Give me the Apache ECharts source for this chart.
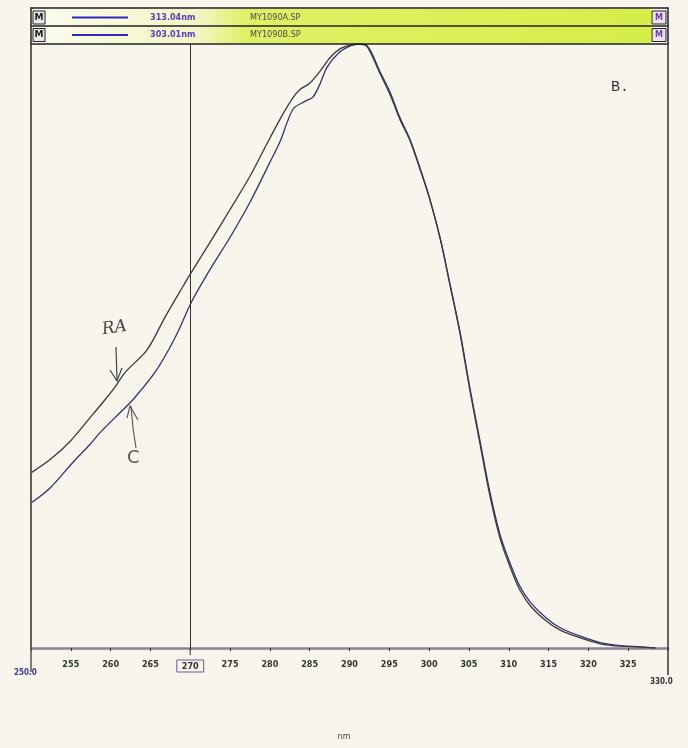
<!DOCTYPE html>
<html>
<head>
<meta charset="utf-8">
<script src="https://cdn.jsdelivr.net/npm/echarts@6/dist/echarts.min.js"></script>
<style>html,body{margin:0;padding:0;background:#f7f5ec;}#c{width:688px;height:748px;}</style>
</head>
<body>
<div id="c"></div>
<script>
// Wavelength (nm) and relative absorbance (% of peak)
const raNm  = [250.0,252.4,254.9,257.4,259.3,260.5,261.8,264.6,266.8,268.7,270.0,272.5,275.0,277.5,279.4,281.3,282.8,283.8,285.0,286.3,287.6,288.8,290.1,290.9];
const raAbs = [29.0,31.2,34.2,38.1,41.1,43.1,45.6,49.4,54.7,59.0,61.9,67.2,72.6,78.1,82.9,87.6,90.9,92.5,93.5,95.5,97.8,99.2,99.8,100.0];
const cNm   = [250.0,252.4,255.3,257.4,258.7,261.2,262.8,265.8,268.1,270.2,272.5,275.0,277.5,280.0,281.3,282.9,284.4,285.4,286.3,287.2,288.8,290.1,291.3];
const cAbs  = [24.0,26.5,30.8,33.7,35.7,39.0,41.1,46.1,51.4,57.4,62.7,68.0,73.8,80.4,83.9,89.2,90.5,91.2,93.4,96.2,98.7,99.7,100.0];
// shared falling edge
const tailNm  = [292.2,293.8,295.1,296.3,297.6,298.9,300.1,301.4,302.6,303.9,305.1,306.4,307.6,308.9,310.2,311.4,312.7,314.6,316.4,318.9,321.5,324.0,326.5,328.4];
const tailRa  = [99.7,95.5,92.0,87.9,84.2,79.3,74.3,67.7,60.2,51.9,42.8,33.7,25.4,18.2,13.3,9.6,7.0,4.6,3.0,1.7,0.7,0.3,0.2,0.0];
const tailC   = [99.6,95.2,91.6,87.6,84.0,79.1,74.2,67.8,60.4,52.2,43.2,34.2,26.0,18.8,13.9,10.2,7.6,5.1,3.4,2.0,0.9,0.4,0.2,0.0];
const xTicks = [255,260,265,270,275,280,285,290,295,300,305,310,315,320,325];
const cursorNm = 270;
const legendRows = [
  {val:'313.04nm', file:'MY1090A.SP'},
  {val:'303.01nm', file:'MY1090B.SP'}
];

function pairs(a,b){return a.map((v,i)=>[v,b[i]]);}
const raData = pairs(raNm,raAbs).concat(pairs(tailNm,tailRa));
const cData  = pairs(cNm,cAbs).concat(pairs(tailNm,tailC));

const chart = echarts.init(document.getElementById('c'));
const L=31,R=668,T=44,B=648;

const g = [];
// header
legendRows.forEach((r,i)=>{
  const y0 = 9 + i*17.5;
  g.push({type:'rect',shape:{x:46,y:y0,width:605,height:17},style:{fill:new echarts.graphic.LinearGradient(0,0,1,0,[
    {offset:0,color:'#fbfbea'},{offset:0.25,color:'#f3f6c4'},{offset:0.33,color:'#dff166'},{offset:1,color:'#d6ee48'}])},z:1});
  g.push({type:'rect',shape:{x:33,y:y0+2,width:12,height:13},style:{fill:'#e8e8e8',stroke:'#222',lineWidth:1},z:2});
  g.push({type:'text',x:39,y:y0+8.5,style:{text:'M',fill:'#222',font:'bold 9px DejaVu Sans',align:'center',verticalAlign:'middle'},z:3});
  g.push({type:'line',shape:{x1:72,y1:y0+8.5,x2:128,y2:y0+8.5},style:{stroke:'#2b2bbf',lineWidth:2},z:3});
  g.push({type:'text',x:150,y:y0+8.5,style:{text:r.val,fill:'#5a3cc0',font:'bold 9px DejaVu Sans Condensed',verticalAlign:'middle'},z:3});
  g.push({type:'text',x:250,y:y0+8.5,style:{text:r.file,fill:'#4b4b4b',font:'9px DejaVu Sans Condensed',verticalAlign:'middle'},z:3});
  g.push({type:'rect',shape:{x:652,y:y0+2,width:14,height:13},style:{fill:'#ecdff0',stroke:'#222',lineWidth:1},z:2});
  g.push({type:'text',x:659,y:y0+8.5,style:{text:'M',fill:'#7040a0',font:'bold 8px DejaVu Sans',align:'center',verticalAlign:'middle'},z:3});
});
g.push({type:'rect',shape:{x:31,y:8,width:637,height:36},style:{fill:'none',stroke:'#222',lineWidth:1.5},z:4});
g.push({type:'line',shape:{x1:31,y1:26,x2:668,y2:26},style:{stroke:'#222',lineWidth:1.3},z:4});
// frame extensions
g.push({type:'line',shape:{x1:R,y1:T,x2:R,y2:675},style:{stroke:'#333',lineWidth:1.5},z:4});
g.push({type:'line',shape:{x1:L,y1:T,x2:L,y2:672},style:{stroke:'#555',lineWidth:1.5},z:4});
g.push({type:'line',shape:{x1:190.2,y1:B,x2:190.2,y2:655},style:{stroke:'#333',lineWidth:1},z:4});
// end labels
g.push({type:'text',x:14,y:673,style:{text:'250.0',fill:'#3a3a9a',font:'bold 8px DejaVu Sans Condensed',verticalAlign:'middle'}});
g.push({type:'text',x:650,y:682,style:{text:'330.0',fill:'#333',font:'bold 8px DejaVu Sans Condensed',verticalAlign:'middle'}});
g.push({type:'text',x:344,y:737,style:{text:'nm',fill:'#444',font:'8px DejaVu Sans',align:'center',verticalAlign:'middle'}});
// panel label
g.push({type:'text',x:611,y:87,style:{text:'B.',fill:'#333',font:'15px Liberation Mono',verticalAlign:'middle'}});
// handwriting
g.push({type:'text',x:102,y:330,rotation:0.15,style:{text:'RA',fill:'#444',font:'italic 17px DejaVu Serif',verticalAlign:'middle'}});
g.push({type:'polyline',shape:{points:[[116,347],[117,380]]},style:{stroke:'#444',lineWidth:1.2,fill:'none'}});
g.push({type:'polyline',shape:{points:[[110,370],[117,381],[122,368]]},style:{stroke:'#444',lineWidth:1.2,fill:'none'}});
g.push({type:'text',x:127,y:458,style:{text:'C',fill:'#555',font:'18px DejaVu Sans',verticalAlign:'middle'}});
g.push({type:'polyline',shape:{points:[[136,448],[133,428],[131,406]]},style:{stroke:'#555',lineWidth:1.1,fill:'none'}});
g.push({type:'polyline',shape:{points:[[127,418],[130,406],[138,420]]},style:{stroke:'#555',lineWidth:1.1,fill:'none'}});

chart.setOption({
  backgroundColor:'#f7f5ec',
  animation:false,
  grid:{left:L,right:688-R,top:T,bottom:748-B,containLabel:false},
  xAxis:{type:'value',min:250,max:330,interval:5,
    axisLine:{lineStyle:{color:'#8c8496',width:2.5}},
    axisTick:{show:true,length:3,inside:false,lineStyle:{color:'#333'}},
    splitLine:{show:false},
    axisLabel:{margin:12,fontSize:9,color:'#333',fontFamily:'DejaVu Sans Condensed',fontWeight:'bold',
      formatter:v=> v===cursorNm ? '{box|'+v+'}' : (xTicks.includes(v)? String(v):''),
      rich:{box:{borderColor:'#6a5aa8',borderWidth:1,padding:[2,5,1,5],color:'#333',fontSize:9,fontWeight:'bold'}}}},
  yAxis:{type:'value',min:0,max:100,axisLabel:{show:false},axisTick:{show:false},splitLine:{show:false},
    axisLine:{show:true,lineStyle:{color:'#555',width:1.5}}},
  series:[
    {name:'RA',type:'line',data:raData,showSymbol:false,smooth:0.3,lineStyle:{color:'#3a3a40',width:1.3},z:3,
     markLine:{silent:true,symbol:['none','none'],label:{show:false},lineStyle:{color:'#333',type:'solid',width:1},data:[{xAxis:cursorNm}]}},
    {name:'C',type:'line',data:cData,showSymbol:false,smooth:0.3,lineStyle:{color:'#34346e',width:1.3},z:2}
  ],
  graphic:g
});
</script>
</body>
</html>
